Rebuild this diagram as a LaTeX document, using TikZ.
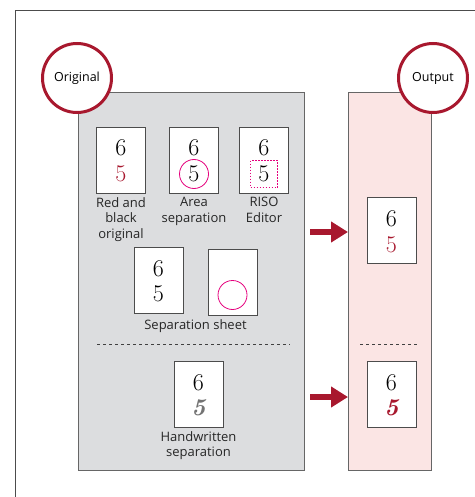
\documentclass[tikz,border=0pt]{standalone}
\usepackage{fontspec}
\usepackage{tikz}
\usetikzlibrary{arrows.meta,calc,positioning}
\newfontfamily\capfont{Open Sans}
\definecolor{risored}{HTML}{A8182E}
\definecolor{risomag}{HTML}{E5007D}
\definecolor{panelgray}{HTML}{DCDDDF}
\definecolor{panelpink}{HTML}{FBE5E4}

\begin{document}
\begin{tikzpicture}[x=1pt,y=-1pt,
  card/.style={draw=black!70,fill=white,line width=0.7pt,minimum width=49pt,minimum height=66pt,inner sep=0pt},
  digit/.style={font=\fontsize{24}{24}\selectfont,inner sep=0pt},
  caption/.style={font=\capfont\fontsize{13}{15.5}\selectfont,align=center,text=black!85,inner sep=0pt},
  tag/.style={circle,draw=risored,line width=3pt,fill=white,minimum size=69pt,inner sep=0pt,font=\capfont\fontsize{12.5}{15}\selectfont},
  panel/.style={draw=black!60,line width=0.7pt,inner sep=0pt,anchor=north west},
  feed/.style={draw=risored,line width=6pt,-{Triangle[length=17pt,width=20pt]}},
  sep/.style={black!75,line width=0.6pt,dash pattern=on 3pt off 3pt}]
\useasboundingbox (0,0) rectangle (474,497);
\draw[black!70,line width=0.7pt] (15,505) |- (485,10);

% panels
\node[panel,fill=panelgray,minimum width=226pt,minimum height=378pt] (orig) at (78,92) {};
\node[panel,fill=panelpink,minimum width=83pt,minimum height=378pt] (outp) at (348,92) {};
\node[tag] (torig) at (77,78) {Original};
\node[tag] (toutp) at (433,78) {Output};

% first row
\node[card] (c1) at (121,160) {};
\node[digit] at ([yshift=12pt]c1.center) {6};
\node[digit,text=risored] at ([yshift=-14pt]c1.center) {5};
\node[caption,below=4pt of c1] {Red and\\black\\original};

\node[card] (c2) at (194,160) {};
\node[digit] at ([yshift=12pt]c2.center) {6};
\node[digit,circle,draw=risomag,line width=0.8pt,minimum size=29pt] at ([yshift=-14pt]c2.center) {5};
\node[caption,below=4pt of c2] {Area\\separation};

\node[card] (c3) at (264,160) {};
\node[digit] at ([yshift=12pt]c3.center) {6};
\node[digit,draw=risomag,line width=0.8pt,dash pattern=on 1.5pt off 1.5pt,minimum size=27pt] at ([yshift=-14pt]c3.center) {5};
\node[caption,below=4pt of c3] {RISO\\Editor};

% second row
\node[card] (c4) at (158.5,280) {};
\node[digit] at ([yshift=11pt]c4.center) {6};
\node[digit] at ([yshift=-14pt]c4.center) {5};
\node[card] (c5) at (232.5,282) {};
\node[circle,draw=risomag,line width=0.8pt,minimum size=29pt] at ([yshift=-13pt]c5.center) {};
\node[caption,anchor=north] at ($(c4.south)!0.5!(c5.south)+(0,5)$) {Separation sheet};

\draw[sep] (97,344) -- (290,344);

\node[card] (c6) at (198.5,394) {};
\node[digit] at ([yshift=11pt]c6.center) {6};
\node[digit,text=black!55] at ([yshift=-14pt]c6.center) {\bfseries\itshape 5};
\node[caption,below=4pt of c6] {Handwritten\\separation};

% output
\node[card] (c7) at (391.5,230) {};
\node[digit] at ([yshift=11pt]c7.center) {6};
\node[digit,text=risored] at ([yshift=-15pt]c7.center) {5};
\draw[sep] (360,344) -- (417,344);
\node[card] (c8) at (391.5,394) {};
\node[digit] at ([yshift=11pt]c8.center) {6};
\node[digit,text=risored] at ([yshift=-14pt]c8.center) {\bfseries\itshape 5};

\coordinate (f1) at (310,232);
\coordinate (f2) at (310,397);
\draw[feed] (f1) -- (f1 -| outp.west);
\draw[feed] (f2) -- (f2 -| outp.west);
\end{tikzpicture}
\end{document}
